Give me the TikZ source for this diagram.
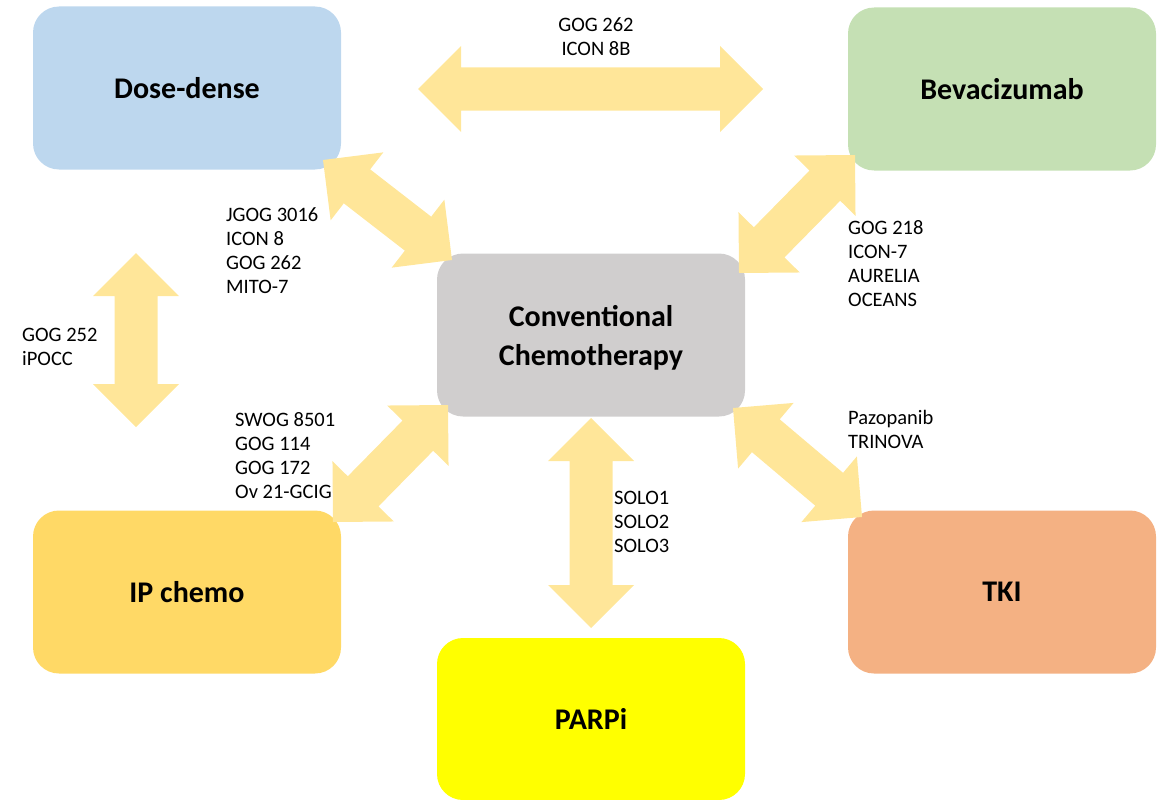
\documentclass[tikz,border=0pt]{standalone}
\usepackage{fontspec}
\setmainfont{Carlito}
\usetikzlibrary{calc}

\definecolor{ddblue}{HTML}{BDD7EE}
\definecolor{bevgreen}{HTML}{C5E0B4}
\definecolor{convgray}{HTML}{D0CECE}
\definecolor{ipgold}{HTML}{FFD966}
\definecolor{tkiorange}{HTML}{F4B183}
\definecolor{parpyellow}{HTML}{FFFF00}
\definecolor{arrowyellow}{HTML}{FFE699}

% geometry of the block arrows
\newcommand\arrHL{43pt}  % head length
\newcommand\arrHW{43pt}  % half head width
\newcommand\arrSW{21.5pt}% half shaft width

% filled double-headed block arrow between two named points
\newcommand\fatarrow[2]{%
  \fill[arrowfill]
    (#1)
    -- ($(#1)!\arrHL!(#2)!\arrHW!90:(#2)$)
    -- ($(#1)!\arrHL!(#2)!\arrSW!90:(#2)$)
    -- ($(#2)!\arrHL!(#1)!\arrSW!-90:(#1)$)
    -- ($(#2)!\arrHL!(#1)!\arrHW!-90:(#1)$)
    -- (#2)
    -- ($(#2)!\arrHL!(#1)!\arrHW!90:(#1)$)
    -- ($(#2)!\arrHL!(#1)!\arrSW!90:(#1)$)
    -- ($(#1)!\arrHL!(#2)!\arrSW!-90:(#2)$)
    -- ($(#1)!\arrHL!(#2)!\arrHW!-90:(#2)$)
    -- cycle;}

\tikzset{
  box/.style={rounded corners=26pt, minimum width=308pt, minimum height=163pt,
    inner sep=0pt, align=center, font=\fontsize{30}{36}\selectfont\bfseries},
  boxtitle/.style={inner sep=0pt, align=center, font=\fontsize{30}{36}\selectfont\bfseries},
  arrowfill/.style={fill=arrowyellow},
  trials/.style={anchor=north west, align=left, inner sep=0pt,
    font=\fontsize{20.5}{24}\selectfont},
}

\begin{document}
\begin{tikzpicture}[x=1pt, y=-1pt]
\useasboundingbox (0,0) rectangle (1165,800);

% treatment boxes
\node[box, fill=ddblue]     (dd)   at (187,88)  {Dose-dense};
\node[box, fill=bevgreen]   (bev)  at (1002,89) {Bevacizumab};
\node[box, fill=convgray]   (conv) at (591,335) {};
\node[boxtitle] (convtitle) at ([yshift=-3pt]conv.center) {Conventional\\[3pt]Chemotherapy};
\node[box, fill=ipgold]     (ip)   at (187,592) {IP chemo};
\node[box, fill=tkiorange]  (tki)  at (1002,592){TKI};
\node[box, fill=parpyellow, minimum height=162pt] (parp) at (591,719) {PARPi};

% arrow tips
\coordinate (ddT)   at (323,160);
\coordinate (ddC)   at (452,260);
\coordinate (bevT)  at (855,155);
\coordinate (bevC)  at (739,273);
\coordinate (ipT)   at (333,522);
\coordinate (ipC)   at (448,405);
\coordinate (tkiT)  at (862,517);
\coordinate (tkiC)  at (733,408);
\coordinate (parpC) at (591,418);
\coordinate (parpT) at (591,628);
\coordinate (topL)  at (418,89);
\coordinate (topR)  at (763,89);
\coordinate (sideU) at (136,253);
\coordinate (sideD) at (136,427);

\fatarrow{topL}{topR}
\fatarrow{sideU}{sideD}
\fatarrow{ddT}{ddC}
\fatarrow{bevT}{bevC}
\fatarrow{ipT}{ipC}
\fatarrow{tkiT}{tkiC}
\fatarrow{parpC}{parpT}

% trial labels
\node[trials, anchor=north, align=center] (lbTop) at (596,17) {GOG 262\\ICON 8B};
\node[trials] (lbDD)   at (226,207) {JGOG 3016\\ICON 8\\GOG 262\\MITO-7};
\node[trials] (lbBev)  at (848,220) {GOG 218\\ICON-7\\AURELIA\\OCEANS};
\node[trials] (lbSide) at (22,328)  {GOG 252\\iPOCC};
\node[trials] (lbIP)   at (235,412) {SWOG 8501\\GOG 114\\GOG 172\\Ov 21-GCIG};
\node[trials] (lbTKI)  at (848,410) {Pazopanib\\TRINOVA};
\node[trials] (lbParp) at (614,491) {SOLO1\\SOLO2\\SOLO3};
\end{tikzpicture}
\end{document}
